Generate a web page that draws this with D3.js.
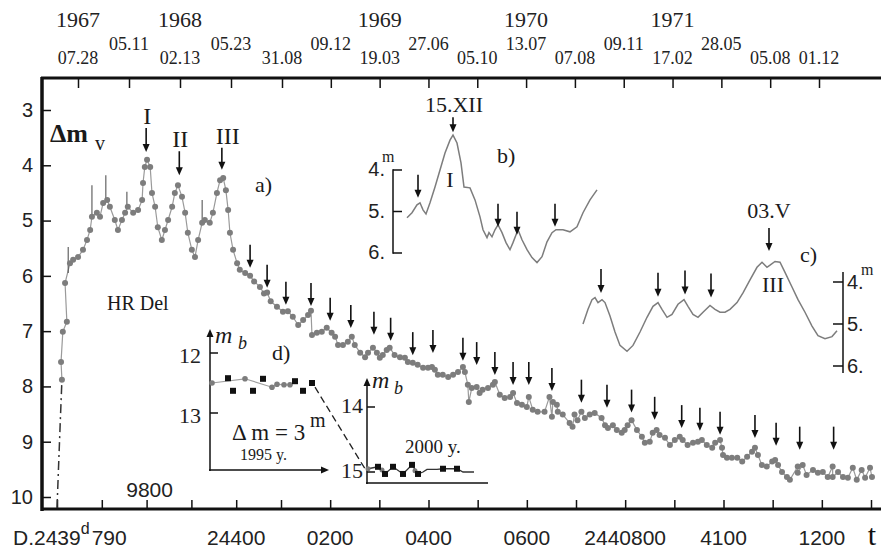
<!DOCTYPE html>
<html>
<head>
<meta charset="utf-8">
<script src="https://cdn.jsdelivr.net/npm/d3@7"></script>
<style>
  body { margin: 0; background: #fff; }
  svg { display: block; }
</style>
</head>
<body>
<svg id="chart" width="881" height="553"></svg>
<script>
// ---- data ----
const topDates = ["07.28", "05.11", "02.13", "05.23", "31.08", "09.12", "19.03", "27.06",
  "05.10", "13.07", "07.08", "09.11", "17.02", "28.05", "05.08", "01.12"]
const years = ["1967", "1968", "1969", "1970", "1971"]
const yearDateIndex = [0, 2, 6, 9, 12]

const magTicks = [3, 4, 5, 6, 7, 8, 9, 10]
const dayTicks = [0, 100, 200, 300, 400, 500, 600, 700, 800, 900, 1000, 1100, 1200, 1300, 1400, 1500, 1600, 1700]
const dayLabelDays = [400, 600, 800, 1000, 1200, 1400, 1600]
const dayLabelText = ["24400", "0200", "0400", "0600", "2440800", "4100", "1200"]

// [day, magnitude]
const riseDashed = [[0, 10.2], [7, 8.7], [11, 7.88]]
const lightCurve = [
  [11, 7.88], [9, 7.56], [13, 7.01], [22, 6.83], [18, 6.13], [29, 5.77], [36, 5.71], [47, 5.66],
  [58, 5.53], [67, 5.35], [74, 5.17], [78, 4.93], [89, 4.86], [96, 4.93], [103, 4.68], [112, 4.63],
  [118, 4.75], [129, 4.99], [136, 5.17], [145, 4.99], [152, 4.86], [158, 4.75], [170, 4.86], [181, 4.81],
  [190, 4.63], [192, 4.32], [196, 4.03], [201, 3.90], [208, 4.03], [212, 4.50], [219, 4.75], [225, 5.12],
  [234, 5.35], [241, 5.17], [248, 4.99], [257, 4.75], [263, 4.50], [270, 4.36], [279, 4.57], [286, 4.86],
  [292, 5.22], [301, 5.53], [308, 5.66], [315, 5.35], [324, 5.04], [330, 4.99], [341, 5.04], [348, 4.86],
  [357, 4.50], [364, 4.27], [371, 4.23], [377, 4.45], [382, 4.81], [386, 5.22], [393, 5.53], [402, 5.77],
  [408, 5.89], [420, 5.95], [431, 6.00], [440, 6.10], [453, 6.20], [462, 6.32], [469, 6.30], [477, 6.46],
  [491, 6.56], [504, 6.65], [514, 6.64], [524, 6.74], [535, 6.89], [545, 6.80], [555, 6.71], [561, 6.63],
  [563, 7.07], [573, 7.03], [583, 7.01], [593, 6.94], [603, 7.03], [610, 7.10], [616, 7.25], [626, 7.25],
  [636, 7.19], [644, 7.10], [650, 7.25], [661, 7.39], [671, 7.47], [677, 7.39], [687, 7.30], [695, 7.39],
  [701, 7.48], [707, 7.43], [715, 7.34], [721, 7.30], [731, 7.43], [742, 7.47], [752, 7.48], [758, 7.56],
  [768, 7.57], [778, 7.61], [789, 7.66], [799, 7.66], [807, 7.65], [813, 7.70], [819, 7.79], [829, 7.79],
  [840, 7.83], [850, 7.79], [860, 7.74], [870, 7.65], [874, 7.74], [880, 7.97], [882, 8.28], [888, 8.03],
  [898, 8.01], [904, 8.12], [910, 8.06], [921, 8.03], [931, 7.97], [935, 7.92], [945, 8.15], [955, 8.21],
  [966, 8.19], [972, 8.12], [980, 8.30], [990, 8.33], [1000, 8.37], [1004, 8.19], [1012, 8.42], [1022, 8.46],
  [1036, 8.46], [1046, 8.19], [1051, 8.55], [1053, 8.28], [1061, 8.33], [1063, 8.46], [1073, 8.51], [1087, 8.66],
  [1093, 8.73], [1097, 8.51], [1103, 8.61], [1111, 8.46], [1118, 8.57], [1128, 8.51], [1138, 8.48], [1152, 8.57],
  [1159, 8.70], [1165, 8.75], [1175, 8.70], [1183, 8.79], [1193, 8.84], [1199, 8.79], [1205, 8.70], [1213, 8.61],
  [1224, 8.79], [1234, 8.91], [1240, 9.02], [1250, 9.00], [1256, 8.84], [1264, 8.79], [1270, 8.88], [1281, 8.93],
  [1291, 9.06], [1301, 8.97], [1311, 8.91], [1317, 8.97], [1327, 9.06], [1338, 9.02], [1348, 9.00], [1356, 8.97],
  [1366, 9.06], [1377, 9.11], [1383, 9.02], [1393, 8.97], [1397, 9.11], [1399, 9.24], [1407, 9.29], [1417, 9.29],
  [1428, 9.29], [1438, 9.36], [1448, 9.27], [1458, 9.18], [1464, 9.11], [1470, 9.24], [1478, 9.42], [1488, 9.45],
  [1499, 9.36], [1505, 9.33], [1511, 9.42], [1519, 9.55], [1529, 9.64], [1535, 9.69], [1551, 9.45], [1551, 9.56],
  [1561, 9.42], [1569, 9.60], [1582, 9.51], [1592, 9.56], [1602, 9.55], [1612, 9.64], [1622, 9.45], [1622, 9.64],
  [1633, 9.55], [1643, 9.64], [1653, 9.65], [1663, 9.47], [1671, 9.69], [1681, 9.51], [1688, 9.65], [1698, 9.47],
  [1702, 9.64]
]
// thin vertical spikes: [day, bright mag, faint mag]
const spikes = [[25, 5.48, 5.95], [78, 4.36, 4.93], [109, 4.18, 4.63], [156, 4.48, 4.75], [324, 4.63, 5.04]]
// flare markers: [day, mag at arrow tip]
const flareArrows = [
  [431, 5.89], [469, 6.25], [510, 6.56], [561, 6.58], [600, 6.85], [642, 6.98], [689, 7.10], [723, 7.21],
  [768, 7.47], [809, 7.43], [870, 7.57], [898, 7.65], [935, 7.83], [972, 8.01], [1004, 8.01], [1051, 8.12],
  [1111, 8.33], [1163, 8.42], [1213, 8.51], [1260, 8.64], [1315, 8.79], [1352, 8.84], [1393, 8.91], [1464, 8.97],
  [1507, 9.11], [1555, 9.18], [1624, 9.18]
]
const romanNames = ["I", "II", "III"]
const romanPeaks = [[199, 3.76], [273, 4.18], [368, 4.08]]

// inset b) [day, mag]
const insetB = [
  [0, 5.15], [2.5, 5.03], [5, 4.84], [6.5, 4.79], [8, 4.96], [9.5, 5.06], [11.5, 4.79], [14, 4.41],
  [16.5, 4.00], [19, 3.59], [21.5, 3.28], [23, 3.16], [25, 3.35], [27, 3.83], [28.5, 4.41], [31.5, 4.43],
  [34, 4.72], [36.5, 5.13], [38, 5.44], [40, 5.63], [41, 5.51], [42.5, 5.61], [44, 5.44], [45.5, 5.32],
  [47.5, 5.51], [49.5, 5.75], [51.5, 5.92], [53, 5.75], [55.5, 5.44], [57.5, 5.68], [60, 5.92], [62.5, 6.11],
  [65, 6.23], [67.5, 6.09], [70, 5.73], [72.5, 5.51], [74.5, 5.44], [78, 5.44], [81.5, 5.49], [85, 5.37],
  [88, 5.03], [91.5, 4.72], [95, 4.48]
]
const insetBArrows = [[5.5, 4.67], [45.5, 5.37], [55, 5.56], [74, 5.37]]
const insetBPeak = [23, 3.09]

// inset c) [day, mag]
const insetC = [
  [0, 5.00], [2.5, 4.65], [4.5, 4.42], [6, 4.37], [7.5, 4.49], [9.5, 4.42], [11, 4.49], [13.5, 4.81],
  [16, 5.19], [18.5, 5.51], [22, 5.65], [25, 5.51], [28.5, 5.19], [32, 4.84], [35, 4.58], [37.5, 4.49],
  [39.5, 4.65], [42, 4.84], [44.5, 4.77], [47.5, 4.53], [50.5, 4.42], [52.5, 4.58], [55, 4.77], [57.5, 4.84],
  [60, 4.72], [63.5, 4.56], [66, 4.65], [68.5, 4.72], [71, 4.72], [73.5, 4.65], [77, 4.49], [80, 4.26],
  [83.5, 3.95], [87, 3.65], [89.5, 3.53], [92, 3.65], [93.5, 3.60], [96, 3.51], [98.5, 3.53], [101, 3.77],
  [104.5, 4.12], [107.5, 4.42], [111, 4.72], [114.5, 5.05], [117.5, 5.28], [121, 5.35], [124.5, 5.30], [127, 5.16]
]
const insetCArrows = [[9, 4.26], [37.5, 4.35], [51, 4.30], [64, 4.37]]
const insetCPeak = [93, 3.26]

// inset d) 1995 and 2000 [day, m_b]
const d1Dots = [[2, 12.50], [35, 12.43], [62, 12.57], [67, 12.52], [74, 12.53], [80, 12.53]]
const d1Squares = [[18, 12.42], [23, 12.63], [43, 12.63], [53, 12.43], [85, 12.47], [93, 12.63], [102, 12.50]]
const d2Dots = [[1, 14.95], [15, 14.97], [48, 14.98]]
const d2Squares = [[11, 14.92], [18, 15.03], [26, 14.92], [36, 15.03], [45, 14.89], [51, 15.03], [76, 14.95], [90, 14.95]]
const d2Trend = [[1, 14.95], [11, 14.92], [18, 15.03], [26, 14.92], [36, 15.03], [45, 14.89], [51, 15.03], [56, 15.0], [60, 14.96], [70, 14.96], [76, 14.95], [90, 14.95], [96, 15.0], [107, 15.0]]

document.addEventListener("DOMContentLoaded", function () {
  const svg = d3.select("#chart")
  const serif = "'Liberation Serif', 'Times New Roman', serif"
  const sans = "'Liberation Sans', Arial, sans-serif"
  const ink = "#111"
  const gray = "#7d7d7d"

  svg.append("rect").attr("width", 881).attr("height", 553).attr("fill", "#fff")

  const x = d3.scaleLinear().domain([0, 500, 1700]).range([57, 281, 871])
  const y = d3.scaleLinear().domain([3, 10]).range([110, 497])
  const xTop = d3.scaleLinear().domain([0, 4, 15]).range([78, 282, 819])

  function label(txt, px, py, size, opts = {}) {
    return svg.append("text")
      .attr("x", px).attr("y", py)
      .attr("font-family", opts.family || serif)
      .attr("font-size", size)
      .attr("font-weight", opts.weight || "normal")
      .attr("font-style", opts.style || "normal")
      .attr("text-anchor", opts.anchor || "start")
      .attr("fill", opts.fill || "#1a1a1a")
      .text(txt)
  }

  function arrow(g, px, tipY, len) {
    g.append("line")
      .attr("x1", px).attr("x2", px)
      .attr("y1", tipY - len).attr("y2", tipY - 6)
      .attr("stroke", ink).attr("stroke-width", 1.6)
    g.append("path")
      .attr("d", `M${px - 3.5},${tipY - 8}L${px + 3.5},${tipY - 8}L${px},${tipY}Z`)
      .attr("fill", ink)
  }

  // frame
  svg.append("line").attr("x1", 41).attr("x2", 881).attr("y1", 78).attr("y2", 78)
    .attr("stroke", ink).attr("stroke-width", 3)
  svg.append("line").attr("x1", 42).attr("x2", 42).attr("y1", 77).attr("y2", 511)
    .attr("stroke", ink).attr("stroke-width", 3.5)
  svg.append("line").attr("x1", 41).attr("x2", 881).attr("y1", 509).attr("y2", 509)
    .attr("stroke", ink).attr("stroke-width", 3)

  // left axis
  const leftAxis = svg.append("g")
    .attr("transform", "translate(42,0)")
    .call(d3.axisLeft(y).tickValues(magTicks).tickFormat(d3.format("d"))
      .tickSizeInner(-9).tickSizeOuter(0).tickPadding(9))
  leftAxis.select(".domain").remove()
  leftAxis.selectAll("line").attr("stroke", ink).attr("stroke-width", 1.5)
  leftAxis.selectAll("text").attr("font-family", sans).attr("font-size", 20).attr("fill", "#222")

  // bottom axis
  const bottomAxis = svg.append("g")
    .attr("transform", "translate(0,509)")
    .call(d3.axisBottom(x).tickValues(dayTicks).tickSizeInner(-9).tickSizeOuter(0).tickFormat(""))
  bottomAxis.select(".domain").remove()
  bottomAxis.selectAll("line").attr("stroke", ink).attr("stroke-width", 1.5)

  svg.append("g").selectAll("text")
    .data(dayLabelDays)
    .join("text")
    .attr("x", (d) => x(d))
    .attr("y", 545)
    .attr("text-anchor", "middle")
    .attr("font-family", sans).attr("font-size", 21).attr("fill", "#222")
    .text((d, i) => dayLabelText[i])
  label("9800", x(200) + 3, 497, 21, { family: sans, anchor: "middle", fill: "#222" })
  const dLabel = label("D.2439", 13, 545, 21, { family: sans, fill: "#222" })
  dLabel.append("tspan").attr("dy", -11).attr("font-size", 16).text("d")
  dLabel.append("tspan").attr("dy", 11).attr("dx", 2).text("790")
  label("t", 872, 545, 30, { anchor: "middle", fill: ink })

  // top axis
  const topAxis = svg.append("g")
    .attr("transform", "translate(0,78)")
    .call(d3.axisBottom(xTop).tickValues(d3.range(topDates.length)).tickSizeInner(10).tickSizeOuter(0).tickFormat(""))
  topAxis.select(".domain").remove()
  topAxis.selectAll("line").attr("stroke", ink).attr("stroke-width", 1.5)

  svg.append("g").selectAll("text")
    .data(topDates)
    .join("text")
    .attr("x", (d, i) => xTop(i))
    .attr("y", (d, i) => (i % 2 === 1 && i < topDates.length - 1 ? 50 : 64))
    .attr("text-anchor", "middle")
    .attr("font-family", serif).attr("font-size", 18).attr("fill", "#222")
    .text((d) => d)
  svg.append("g").selectAll("text")
    .data(years)
    .join("text")
    .attr("x", (d, i) => xTop(yearDateIndex[i]))
    .attr("y", 27)
    .attr("text-anchor", "middle")
    .attr("font-family", serif).attr("font-size", 22).attr("fill", "#222")
    .text((d) => d)

  // main light curve
  const line = d3.line().x((d) => x(d[0])).y((d) => y(d[1]))
  svg.append("path")
    .datum(riseDashed)
    .attr("fill", "none").attr("stroke", "#333").attr("stroke-width", 1.5)
    .attr("stroke-dasharray", "9,4,2,4")
    .attr("d", line)
  svg.append("path")
    .datum(lightCurve)
    .attr("fill", "none").attr("stroke", "#9a9a9a").attr("stroke-width", 1.2)
    .attr("d", line)
  svg.append("g").selectAll("line")
    .data(spikes)
    .join("line")
    .attr("x1", (d) => x(d[0])).attr("x2", (d) => x(d[0]))
    .attr("y1", (d) => y(d[1])).attr("y2", (d) => y(d[2]))
    .attr("stroke", "#555").attr("stroke-width", 1.1)
  svg.append("g").selectAll("circle")
    .data(lightCurve)
    .join("circle")
    .attr("cx", (d) => x(d[0])).attr("cy", (d) => y(d[1]))
    .attr("r", 3).attr("fill", gray)

  const arrowsMain = svg.append("g")
  flareArrows.forEach((d) => arrow(arrowsMain, x(d[0]), y(d[1]) - 2, 23))
  romanPeaks.forEach((d, i) => {
    const len = [24, 24, 22][i]
    arrow(arrowsMain, x(d[0]), y(d[1]), len)
    label(romanNames[i], x(d[0]) + [1, 1, 6][i], y(d[1]) - len - 4, 24, { anchor: "middle", fill: "#1a1a1a" })
  })

  label("\u0394m", 50, 142, 26, { weight: "bold", fill: "#1a1a1a" })
  label("v", 95, 150, 20, { fill: "#1a1a1a" })
  label("a)", 255, 192, 22)
  label("HR Del", 107, 310, 20)

  // inset b)
  const bx = d3.scaleLinear().domain([0, 95]).range([407, 597])
  const by = d3.scaleLinear().domain([4, 6]).range([170, 253])
  svg.append("line").attr("x1", 393).attr("x2", 393).attr("y1", by(3.98)).attr("y2", by(6.02))
    .attr("stroke", ink).attr("stroke-width", 1.5)
  ;[4, 5, 6].forEach((v) => {
    svg.append("line").attr("x1", 393).attr("x2", 402).attr("y1", by(v)).attr("y2", by(v))
      .attr("stroke", ink).attr("stroke-width", 1.5)
    label(v + ".", 385, by(v) + 6, 20, { family: sans, anchor: "end", fill: "#222" })
  })
  label("m", 382, 162, 16, { fill: "#222" })
  svg.append("path")
    .datum(insetB)
    .attr("fill", "none").attr("stroke", gray).attr("stroke-width", 1.5)
    .attr("d", d3.line().x((d) => bx(d[0])).y((d) => by(d[1])))
  const bArrows = svg.append("g")
  insetBArrows.forEach((d) => arrow(bArrows, bx(d[0]), by(d[1]), 23))
  arrow(bArrows, bx(insetBPeak[0]), by(insetBPeak[1]), 15)
  label("15.XII", bx(insetBPeak[0]) + 1, 112, 22, { anchor: "middle" })
  label("b)", 497, 163, 22)
  label("I", bx(insetBPeak[0]) - 3, 187, 22, { anchor: "middle" })

  // inset c)
  const cx = d3.scaleLinear().domain([0, 127]).range([583, 837])
  const cy = d3.scaleLinear().domain([4, 6]).range([282, 366])
  svg.append("line").attr("x1", 843).attr("x2", 843).attr("y1", 272).attr("y2", 373)
    .attr("stroke", ink).attr("stroke-width", 1.5)
  ;[4, 5, 6].forEach((v) => {
    svg.append("line").attr("x1", 833).attr("x2", 843).attr("y1", cy(v)).attr("y2", cy(v))
      .attr("stroke", ink).attr("stroke-width", 1.5)
    label(v + ".", 847, cy(v) + 7, 20, { family: sans, fill: "#222" })
  })
  label("m", 861, 275, 16, { fill: "#222" })
  svg.append("path")
    .datum(insetC)
    .attr("fill", "none").attr("stroke", gray).attr("stroke-width", 1.5)
    .attr("d", d3.line().x((d) => cx(d[0])).y((d) => cy(d[1])))
  const cArrows = svg.append("g")
  insetCArrows.forEach((d) => arrow(cArrows, cx(d[0]), cy(d[1]), 24))
  arrow(cArrows, cx(insetCPeak[0]), cy(insetCPeak[1]), 23)
  label("03.V", cx(insetCPeak[0]), 218, 22, { anchor: "middle" })
  label("c)", 800, 262, 22)
  label("III", 773, 292, 22, { anchor: "middle" })

  // inset d) 1995
  const dx1 = d3.scaleLinear().domain([0, 120]).range([210, 330])
  const dy1 = d3.scaleLinear().domain([12, 13]).range([353, 413])
  const dg = svg.append("g")
  dg.append("line").attr("x1", 210).attr("x2", 210).attr("y1", 333).attr("y2", 471)
    .attr("stroke", ink).attr("stroke-width", 1.5)
  dg.append("path").attr("d", "M206.5,337L213.5,337L210,329Z").attr("fill", ink)
  dg.append("line").attr("x1", 209).attr("x2", 324).attr("y1", 470).attr("y2", 470)
    .attr("stroke", ink).attr("stroke-width", 1.5)
  dg.append("path").attr("d", "M321,466.5L321,473.5L329,470Z").attr("fill", ink)
  ;[12, 13].forEach((v) => {
    dg.append("line").attr("x1", 210).attr("x2", 218).attr("y1", dy1(v)).attr("y2", dy1(v))
      .attr("stroke", ink).attr("stroke-width", 1.5)
    label(String(v), 201, dy1(v) + 10, 22, { anchor: "end", fill: "#222" })
  })
  label("m", 215, 343, 24, { style: "italic" })
  label("b", 238, 349, 18, { style: "italic" })
  label("d)", 272, 360, 22)
  dg.append("path")
    .datum(d1Dots)
    .attr("fill", "none").attr("stroke", "#a0a0a0").attr("stroke-width", 1.2)
    .attr("d", d3.line().x((d) => dx1(d[0])).y((d) => dy1(d[1])))
  dg.selectAll("circle.d1")
    .data(d1Dots).join("circle")
    .attr("cx", (d) => dx1(d[0])).attr("cy", (d) => dy1(d[1]))
    .attr("r", 2.8).attr("fill", gray)
  dg.selectAll("rect.d1")
    .data(d1Squares).join("rect")
    .attr("x", (d) => dx1(d[0]) - 3).attr("y", (d) => dy1(d[1]) - 3)
    .attr("width", 6).attr("height", 6).attr("fill", ink)
  label("\u0394 m = 3", 232, 440, 23)
  label("m", 310, 427, 20)
  label("1995 y.", 240, 460, 16)

  // inset d) 2000
  const dx2 = d3.scaleLinear().domain([0, 120]).range([367, 487])
  const dy2 = d3.scaleLinear().domain([14, 15]).range([407, 472])
  const dg2 = svg.append("g")
  dg2.append("line").attr("x1", 367).attr("x2", 367).attr("y1", 382).attr("y2", 484)
    .attr("stroke", ink).attr("stroke-width", 1.5)
  dg2.append("path").attr("d", "M363.5,386L370.5,386L367,378Z").attr("fill", ink)
  dg2.append("line").attr("x1", 366).attr("x2", 488).attr("y1", 483).attr("y2", 483)
    .attr("stroke", ink).attr("stroke-width", 1.5)
  ;[14, 15].forEach((v) => {
    dg2.append("line").attr("x1", 367).attr("x2", 375).attr("y1", dy2(v)).attr("y2", dy2(v))
      .attr("stroke", ink).attr("stroke-width", 1.5)
    label(String(v), 363, dy2(v) + 6, 22, { anchor: "end", fill: "#222" })
  })
  label("m", 372, 388, 24, { style: "italic" })
  label("b", 394, 394, 18, { style: "italic" })
  label("2000 y.", 405, 453, 19)
  dg2.append("path")
    .datum(d2Trend)
    .attr("fill", "none").attr("stroke", "#333").attr("stroke-width", 1.3)
    .attr("d", d3.line().x((d) => dx2(d[0])).y((d) => dy2(d[1])))
  dg2.selectAll("circle")
    .data(d2Dots).join("circle")
    .attr("cx", (d) => dx2(d[0])).attr("cy", (d) => dy2(d[1]))
    .attr("r", 2.5).attr("fill", gray)
  dg2.selectAll("rect")
    .data(d2Squares).join("rect")
    .attr("x", (d) => dx2(d[0]) - 3).attr("y", (d) => dy2(d[1]) - 3)
    .attr("width", 6).attr("height", 6).attr("fill", ink)

  // dashed link between the two epochs
  svg.append("line")
    .attr("x1", dx1(105)).attr("y1", dy1(12.57))
    .attr("x2", dx2(0)).attr("y2", dy2(15))
    .attr("stroke", "#222").attr("stroke-width", 1.3)
    .attr("stroke-dasharray", "7,4")
})
</script>
</body>
</html>
